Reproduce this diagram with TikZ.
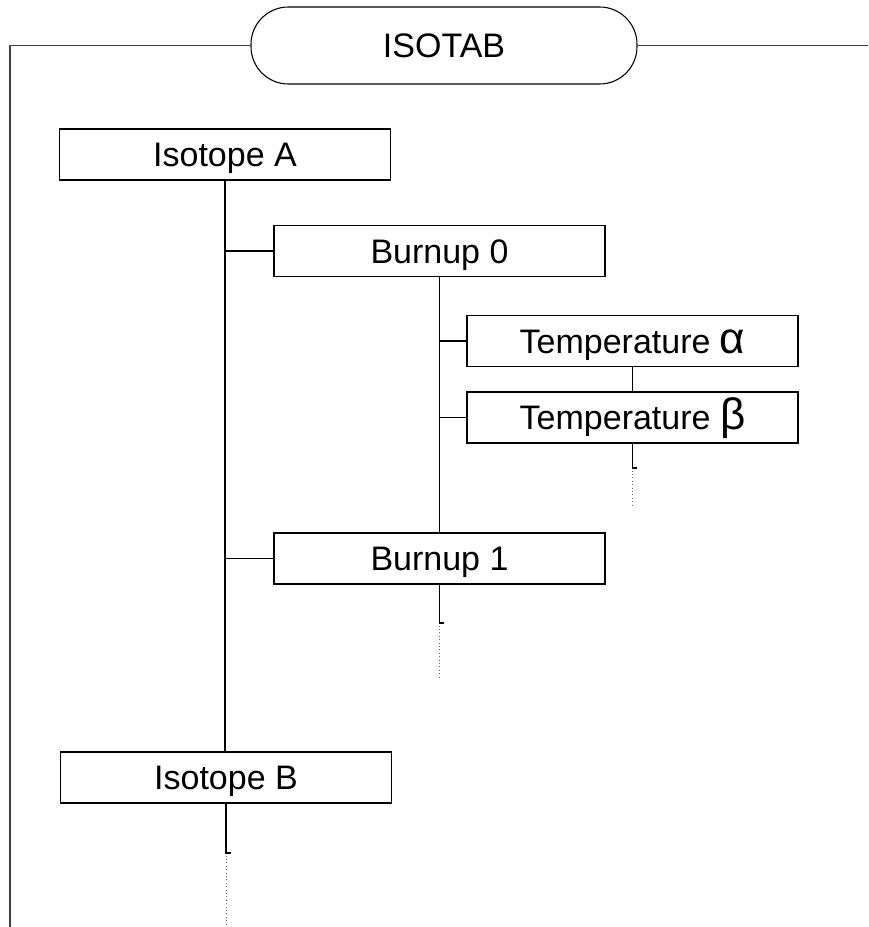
\documentclass[tikz,border=0pt]{standalone}
\usepackage{fontspec}
\setmainfont{Liberation Sans}
\newcommand{\grk}[1]{{\fontsize{33pt}{33pt}\selectfont #1}}
\begin{document}
\begin{tikzpicture}[x=0.75pt,y=-0.75pt,
  every node/.style={font=\fontsize{25.5pt}{30pt}\selectfont, inner sep=0pt, text height=18.3pt, text depth=0pt},
  box/.style={draw=black, line width=0.8pt, minimum width=248.25pt, minimum height=38.25pt},
  title/.style={draw=black, line width=0.8pt, rounded corners=28pt, minimum width=289.5pt, minimum height=57.75pt},
  frame/.style={draw=black!75, line width=0.8pt},
  link/.style={draw=black, line width=0.8pt},
  stub/.style={draw=black, line width=0.8pt},
  dots/.style={draw=black!60, line width=0.75pt, dash pattern=on 0.75pt off 1.8pt}]
\useasboundingbox (0,0) rectangle (868,927);
% title and frame
\node[title] (T) at (444,45.5) {ISOTAB};
\coordinate (fl) at (10,927);
\coordinate (fr) at (868,45.5);
\draw[frame] (fl) |- (T.west);
\draw[frame] (T.east) -- (fr);
% boxes
\node[box] (A)  at (225,154.5) {Isotope A};
\node[box] (B)  at (226,777.5) {Isotope B};
\node[box] (B0) at (439.5,251) {Burnup 0};
\node[box] (B1) at (439.5,558.5) {Burnup 1};
\node[box] (Ta) at (632.5,341) {Temperature \grk{α}};
\node[box] (Tb) at (632.5,417.5) {Temperature \grk{β}};
% tree connectors
\draw[link] (A.south) -- (A.south |- B.north);
\draw[link] (A.south |- B0.west) -- (B0.west);
\draw[link] (A.south |- B1.west) -- (B1.west);
\draw[link] (B0.south) -- (B0.south |- B1.north);
\draw[link] (B0.south |- Ta.west) -- (Ta.west);
\draw[link] (B0.south |- Tb.west) -- (Tb.west);
\draw[link, line width=1.4pt] (B0.south |- Ta.north) -- (B0.south |- Ta.west);
\draw[link, line width=1.4pt] (B0.south |- Tb.north) -- (B0.south |- Tb.west);
\draw[link] (Ta.south) -- (Tb.north);
% continuation stubs
\coordinate (tbs) at (632.5,468);
\coordinate (tbd) at (632.5,508);
\draw[stub] (Tb.south) -- (tbs) -- ++(4,0);
\draw[dots] ([yshift=-2pt]tbs) -- (tbd);
\coordinate (b1s) at (439.5,623);
\coordinate (b1d) at (439.5,680);
\draw[stub] (B1.south) -- (b1s) -- ++(4,0);
\draw[dots] ([yshift=-2pt]b1s) -- (b1d);
\coordinate (bs) at (226,853);
\coordinate (bd) at (226,927);
\draw[stub] (B.south) -- (bs) -- ++(5,0);
\draw[dots] ([yshift=-2pt]bs) -- (bd);
\end{tikzpicture}
\end{document}
